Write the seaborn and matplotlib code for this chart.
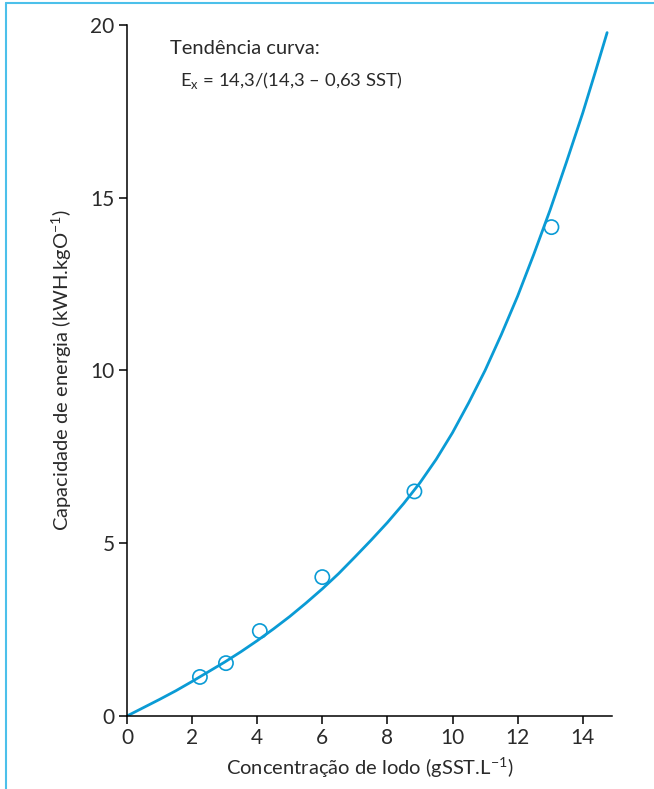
import numpy as np
import pandas as pd
import matplotlib
matplotlib.use("Agg")
import matplotlib.pyplot as plt
import seaborn as sns
from matplotlib.lines import Line2D

sst_obs = [2.24, 3.04, 4.08, 6.0, 8.83, 13.04]
energy_obs = [1.13, 1.53, 2.46, 4.02, 6.5, 14.15]

# Trend curve
sst_curve = [0, 0.5, 1, 1.5, 2, 2.5, 3, 3.5, 4, 4.5, 5, 5.5, 6, 6.5, 7, 7.5, 8,
             8.5, 9, 9.5, 10, 10.5, 11, 11.5, 12, 12.5, 13, 13.5, 14, 14.4, 14.75]
energy_curve = [0, 0.24, 0.48, 0.73, 1.0, 1.28, 1.56, 1.86, 2.18, 2.52, 2.88, 3.27,
                3.68, 4.12, 4.6, 5.09, 5.6, 6.15, 6.75, 7.43, 8.2, 9.07, 10.0, 11.04,
                12.15, 13.37, 14.65, 16.03, 17.45, 18.68, 19.78]

x_ticks = [0, 2, 4, 6, 8, 10, 12, 14]
y_ticks = [0, 5, 10, 15, 20]

sns.set_theme(style="white")
plt.rcParams['font.family'] = ['Lato', 'DejaVu Sans']
plt.rcParams['mathtext.fontset'] = 'custom'
plt.rcParams['mathtext.rm'] = 'Lato'

BLUE = "#0a9bd5"
TXT = "#2a2a2a"
FS_TICK = 15
FS = 14.5
FS_ANN1 = 14.5
FS_ANN2 = 13.3

fig = plt.figure(figsize=(6.54, 7.89), dpi=100)
ax = fig.add_axes([127/654, 1-716/789, (612-127)/654, (716-25)/789])

df_c = pd.DataFrame({"x": sst_curve, "y": energy_curve})
df_o = pd.DataFrame({"x": sst_obs, "y": energy_obs})
sns.lineplot(data=df_c, x="x", y="y", ax=ax, color=BLUE, linewidth=2.0, sort=False)
sns.scatterplot(data=df_o, x="x", y="y", ax=ax, marker="o", s=105,
                facecolor="none", edgecolor=BLUE, linewidth=1.2, zorder=3)

ax.set_xlim(0, 14.9)
ax.set_ylim(0, 20)
ax.set_xticks(x_ticks)
ax.set_yticks(y_ticks)
ax.set_xticklabels([str(t) for t in x_ticks], fontsize=FS_TICK, color=TXT)
ax.set_yticklabels([str(t) for t in y_ticks], fontsize=FS_TICK, color=TXT)
ax.tick_params(axis='both', direction='out', length=6, width=1.1, color='black',
               left=True, bottom=True, pad=3)
for s in ['top', 'right']:
    ax.spines[s].set_visible(False)
for s in ['left', 'bottom']:
    ax.spines[s].set_color('black')
    ax.spines[s].set_linewidth(1.1)

ax.set_xlabel("Concentração de lodo (gSST.L$^{\\mathregular{-1}}$)", fontsize=FS,
              color=TXT, labelpad=5)
ax.set_ylabel("Capacidade de energia (kWH.kgO$^{\\mathregular{-1}}$)", fontsize=FS,
              color=TXT, labelpad=12)

ax.text(1.32, 19.33, "Tendência curva:", fontsize=FS_ANN1, color=TXT,
        ha='left', va='center')
ax.text(1.62, 18.4, "E$_{\\mathregular{x}}$ = 14,3/(14,3 – 0,63 SST)", fontsize=FS_ANN2,
        color=TXT, ha='left', va='center')

# decorative frame lines (top and left)
fig.add_artist(Line2D([6/654, 1.0], [1-3/789, 1-3/789], transform=fig.transFigure,
                      color="#4cc0ea", linewidth=1.5))
fig.add_artist(Line2D([6/654, 6/654], [0, 1-3/789], transform=fig.transFigure,
                      color="#4cc0ea", linewidth=1.5))

fig.savefig("out.png", dpi=100)
